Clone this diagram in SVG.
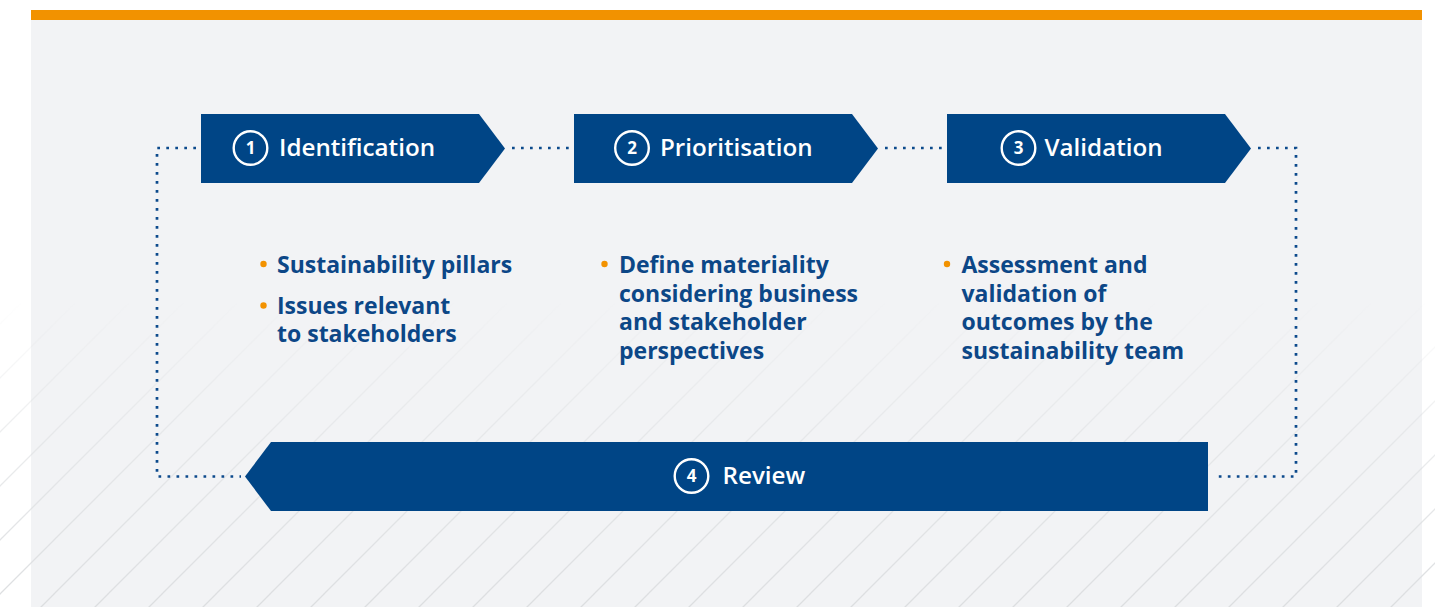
<svg xmlns="http://www.w3.org/2000/svg" width="1435" height="607" viewBox="0 0 1435 607">
  <defs>
    <style>
      .step { fill: #004586; }
      .title { font-family: "Open Sans", "Liberation Sans", sans-serif; font-weight: 600; font-size: 24.2px; fill: #ffffff; }
      .num { font-family: "Open Sans", "Liberation Sans", sans-serif; font-weight: 700; font-size: 17px; fill: #ffffff; text-anchor: middle; }
      .ring { fill: none; stroke: #ffffff; stroke-width: 2.4; }
      .body { font-family: "Open Sans", "Liberation Sans", sans-serif; font-weight: 700; font-size: 23px; fill: #0c4787; }
      .dot { fill: #f29200; }
      .link { fill: none; stroke: #0c4a8c; stroke-width: 2.7; stroke-dasharray: 2.7 6.3; }
    </style>
    <pattern id="hatch" patternUnits="userSpaceOnUse" width="54" height="54">
      <path d="M-2,56 L56,-2 M-2,2 L2,-2 M52,56 L56,52" stroke="#dcdee0" stroke-width="1.3" fill="none"/>
    </pattern>
    <linearGradient id="fadeGrad" x1="0" y1="300" x2="0" y2="607" gradientUnits="userSpaceOnUse">
      <stop offset="0" stop-color="#fff" stop-opacity="0"/>
      <stop offset="0.45" stop-color="#fff" stop-opacity="0.55"/>
      <stop offset="1" stop-color="#fff" stop-opacity="1"/>
    </linearGradient>
    <mask id="fade" maskUnits="userSpaceOnUse" x="0" y="0" width="1435" height="607">
      <rect x="0" y="0" width="1435" height="607" fill="url(#fadeGrad)"/>
    </mask>
  </defs>

  <!-- page -->
  <rect x="0" y="0" width="1435" height="607" fill="#ffffff"/>
  <rect x="31" y="20" width="1391" height="587" fill="#f2f3f5"/>
  <rect x="31" y="10" width="1391" height="10" fill="#f29200"/>
  <rect x="0" y="0" width="1435" height="607" fill="url(#hatch)" mask="url(#fade)"/>

  <!-- connectors -->
  <g id="connectors">
    <path class="link" d="M196,148 L157,148 L157,476.5 L241,476.5"/>
    <path class="link" d="M512,148 L570,148"/>
    <path class="link" d="M885,148 L943,148"/>
    <path class="link" d="M1258,148 L1296,148 L1296,476.5 L1214,476.5"/>
  </g>

  <!-- step 1 -->
  <g id="identification">
    <polygon class="step" points="201,114 479,114 505,148.5 479,183 201,183"/>
    <circle class="ring" cx="250.5" cy="148" r="16.8"/>
    <text class="num" x="250.5" y="154.2">1</text>
    <text class="title" x="279" y="156">Identification</text>
    <circle class="dot" cx="263.5" cy="264" r="3.2"/>
    <text class="body" x="277" y="272.5">Sustainability pillars</text>
    <circle class="dot" cx="263.5" cy="305.5" r="3.2"/>
    <text class="body" x="277" y="314">Issues relevant</text>
    <text class="body" x="277" y="342">to stakeholders</text>
  </g>

  <!-- step 2 -->
  <g id="prioritisation">
    <polygon class="step" points="574,114 852,114 878,148.5 852,183 574,183"/>
    <circle class="ring" cx="632" cy="148" r="16.8"/>
    <text class="num" x="632" y="154.2">2</text>
    <text class="title" x="660" y="156">Prioritisation</text>
    <circle class="dot" cx="604.5" cy="264" r="3.2"/>
    <text class="body" x="619" y="272.5">Define materiality</text>
    <text class="body" x="619" y="301.5">considering business</text>
    <text class="body" x="619" y="330">and stakeholder</text>
    <text class="body" x="619" y="358.5">perspectives</text>
  </g>

  <!-- step 3 -->
  <g id="validation">
    <polygon class="step" points="947,114 1225,114 1251,148.5 1225,183 947,183"/>
    <circle class="ring" cx="1018.5" cy="148" r="16.8"/>
    <text class="num" x="1018.5" y="154.2">3</text>
    <text class="title" x="1044.5" y="156">Validation</text>
    <circle class="dot" cx="947" cy="264" r="3.2"/>
    <text class="body" x="961.5" y="272.5">Assessment and</text>
    <text class="body" x="961.5" y="301.5">validation of</text>
    <text class="body" x="961.5" y="330">outcomes by the</text>
    <text class="body" x="961.5" y="358.5">sustainability team</text>
  </g>

  <!-- step 4 -->
  <g id="review">
    <polygon class="step" points="245,476.5 271,442 1208,442 1208,511 271,511"/>
    <circle class="ring" cx="691.5" cy="476" r="16.8"/>
    <text class="num" x="691.5" y="482.2">4</text>
    <text class="title" x="722.5" y="484">Review</text>
  </g>
</svg>
